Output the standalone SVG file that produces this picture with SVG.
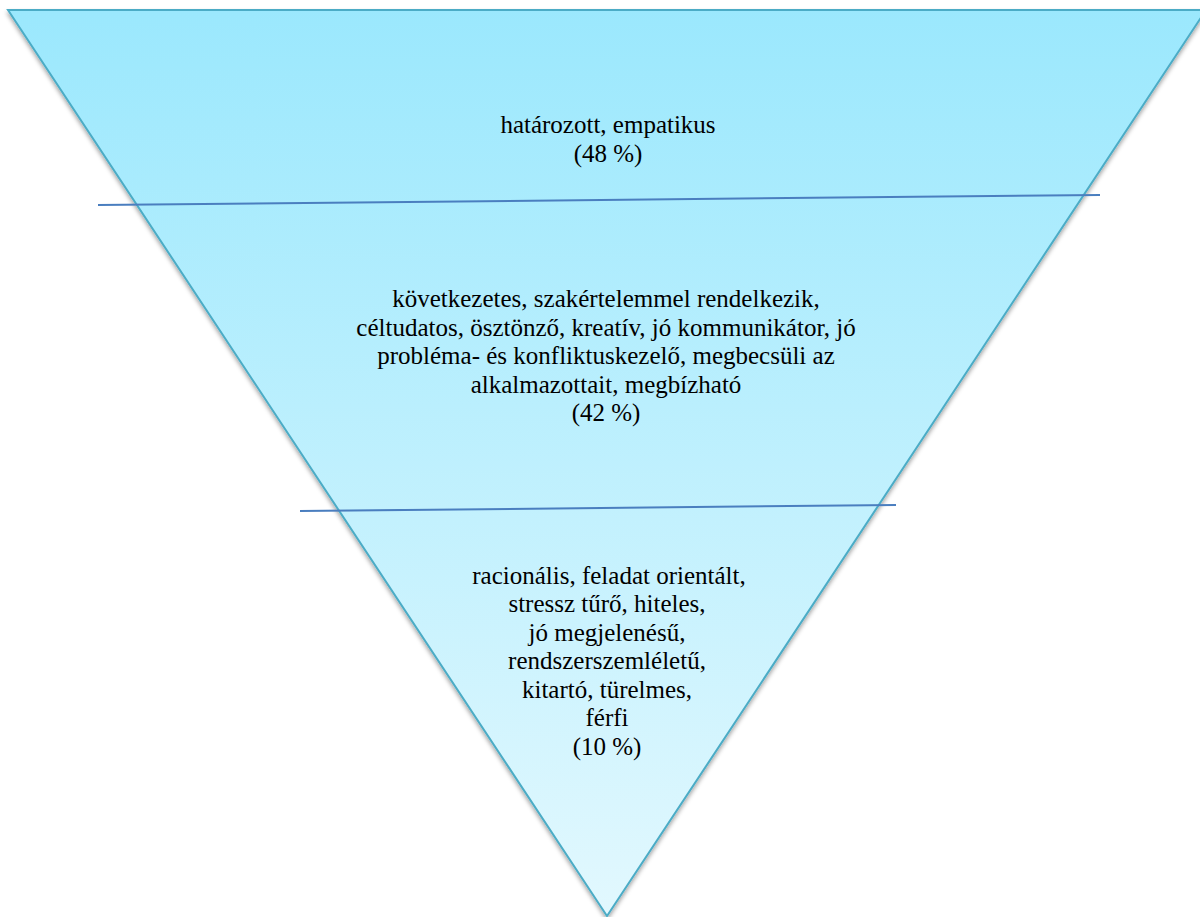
<svg xmlns="http://www.w3.org/2000/svg" width="1200" height="917" viewBox="0 0 1200 917">
<defs>
<linearGradient id="g" x1="0" y1="0" x2="0" y2="1">
<stop offset="0" stop-color="#9be8fd"/>
<stop offset="1" stop-color="#e2f8fe"/>
</linearGradient>
<filter id="sh" x="-5%" y="-5%" width="110%" height="110%">
<feDropShadow dx="0" dy="3" stdDeviation="2" flood-color="#000" flood-opacity="0.35"/>
</filter>
<style>
.t{font-family:"Liberation Serif","Times New Roman",serif;font-size:25px;fill:#000;text-anchor:middle}
.ln{stroke:#4a7ebf;stroke-width:2;fill:none}
</style>
</defs>
<rect width="1200" height="917" fill="#fff"/>
<g id="pyramid">
<polygon points="8,10 1206,10 607,916" fill="url(#g)" stroke="#4bacc6" stroke-width="2" filter="url(#sh)"/>
</g>
<g id="connectors">
<line class="ln" x1="98" y1="205" x2="1100" y2="195"/>
<line class="ln" x1="300" y1="511" x2="896" y2="505"/>
</g>
<g id="level1">
<text class="t" x="608" y="133">határozott, empatikus</text>
<text class="t" x="608" y="162">(48 %)</text>
</g>
<g id="level2">
<text class="t" x="606" y="307">következetes, szakértelemmel rendelkezik,</text>
<text class="t" x="606" y="336">céltudatos, ösztönző, kreatív, jó kommunikátor, jó</text>
<text class="t" x="606" y="364">probléma- és konfliktuskezelő, megbecsüli az</text>
<text class="t" x="606" y="393">alkalmazottait, megbízható</text>
<text class="t" x="606" y="421">(42 %)</text>
</g>
<g id="level3">
<text class="t" x="609" y="584">racionális, feladat orientált,</text>
<text class="t" x="607" y="612">stressz tűrő, hiteles,</text>
<text class="t" x="607" y="641">jó megjelenésű,</text>
<text class="t" x="607" y="669">rendszerszemléletű,</text>
<text class="t" x="607" y="698">kitartó, türelmes,</text>
<text class="t" x="607" y="726">férfi</text>
<text class="t" x="607" y="755">(10 %)</text>
</g>
</svg>
